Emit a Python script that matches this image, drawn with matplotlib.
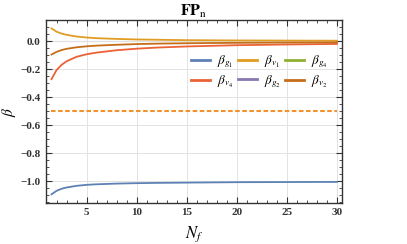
import numpy as np
import matplotlib.pyplot as plt
from matplotlib.lines import Line2D
from matplotlib.ticker import MultipleLocator, FuncFormatter

plt.rcParams['mathtext.fontset'] = 'stix'
plt.rcParams['font.family'] = ['Liberation Serif', 'DejaVu Serif']

# values
Nf = [1.5, 2, 2.5, 3, 4, 5, 6, 8, 10, 12, 15, 20, 25, 30]
beta_g1 = [-1.093, -1.068, -1.053, -1.044, -1.032, -1.025, -1.021, -1.016, -1.013, -1.011, -1.009, -1.006, -1.005, -1.004]
beta_v1 = [0.093, 0.070, 0.056, 0.047, 0.035, 0.028, 0.023, 0.018, 0.014, 0.012, 0.009, 0.007, 0.006, 0.005]
beta_v4 = [-0.270, -0.205, -0.168, -0.142, -0.110, -0.092, -0.080, -0.063, -0.052, -0.044, -0.036, -0.027, -0.022, -0.018]
beta_v2 = [-0.094, -0.075, -0.062, -0.053, -0.042, -0.035, -0.030, -0.024, -0.019, -0.016, -0.013, -0.010, -0.008, -0.007]
dash_level = -0.5

colors = {'g1': '#5E81B5', 'v1': '#E19C24', 'g4': '#8FB032',
          'v4': '#EB6235', 'g2': '#8778B3', 'v2': '#C56E1A'}

fig = plt.figure(figsize=(4.07, 2.44), dpi=100)
ax = fig.add_axes([0.113, 0.169, 0.727, 0.749])

lw = 1.3
ax.axhline(0, color='#b0b0b0', lw=0.8, zorder=1)
ax.plot(Nf, beta_g1, color=colors['g1'], lw=lw, zorder=3)
ax.plot(Nf, beta_v1, color=colors['v1'], lw=lw, zorder=3)
ax.plot(Nf, beta_v4, color=colors['v4'], lw=lw, zorder=3)
ax.plot(Nf, beta_v2, color=colors['v2'], lw=lw, zorder=3)
ax.plot([Nf[0], Nf[-1]], [dash_level, dash_level], color='#F0922E', lw=1.5,
        dashes=(2.2, 1.2), zorder=3)

ax.set_xlim(0.95, 30.5)
ax.set_ylim(-1.153, 0.153)
ax.xaxis.set_major_locator(MultipleLocator(5))
ax.xaxis.set_minor_locator(MultipleLocator(1))
ax.yaxis.set_major_locator(MultipleLocator(0.2))
ax.yaxis.set_minor_locator(MultipleLocator(0.05))
ax.yaxis.set_major_formatter(FuncFormatter(lambda v, p: f"{v:.1f}".replace('-', '\u2212')))
ax.tick_params(which='both', direction='in', top=True, right=True, labelsize=8, colors='#333333')
ax.tick_params(which='major', length=4, width=0.8, pad=4)
ax.tick_params(which='minor', length=2, width=0.6)
for lab in ax.get_xticklabels() + ax.get_yticklabels():
    lab.set_fontweight('bold')
ax.grid(which='major', color='#e3e3e3', lw=0.7)
for s in ax.spines.values():
    s.set_color('#333333')
    s.set_linewidth(1.0)

ax.set_title(r'$\mathbf{FP}_{\mathrm{n}}$', fontsize=11.5, pad=3)
ax.set_xlabel(r'$N_f$', fontsize=12, labelpad=5)
ax.set_ylabel(r'$\beta$', fontsize=11)
ax.yaxis.set_label_coords(-0.095, 0.5)

order = ['g1', 'v1', 'g4', 'v4', 'g2', 'v2']
labels = [r'$\beta_{g_1}$', r'$\beta_{v_1}$', r'$\beta_{g_4}$',
          r'$\beta_{v_4}$', r'$\beta_{g_2}$', r'$\beta_{v_2}$']
handles = [Line2D([], [], color=colors[k], lw=2) for k in order]
# matplotlib fills legend column-wise, so reorder to get row-wise layout
idx = [0, 3, 1, 4, 2, 5]
ax.legend([handles[i] for i in idx], [labels[i] for i in idx], ncol=3,
          loc='center right', bbox_to_anchor=(0.975, 0.718), frameon=False,
          borderpad=0, fontsize=9.5, handlelength=1.45, handletextpad=0.5,
          columnspacing=0.35, labelspacing=0.25)

fig.savefig('out.png', dpi=100)
